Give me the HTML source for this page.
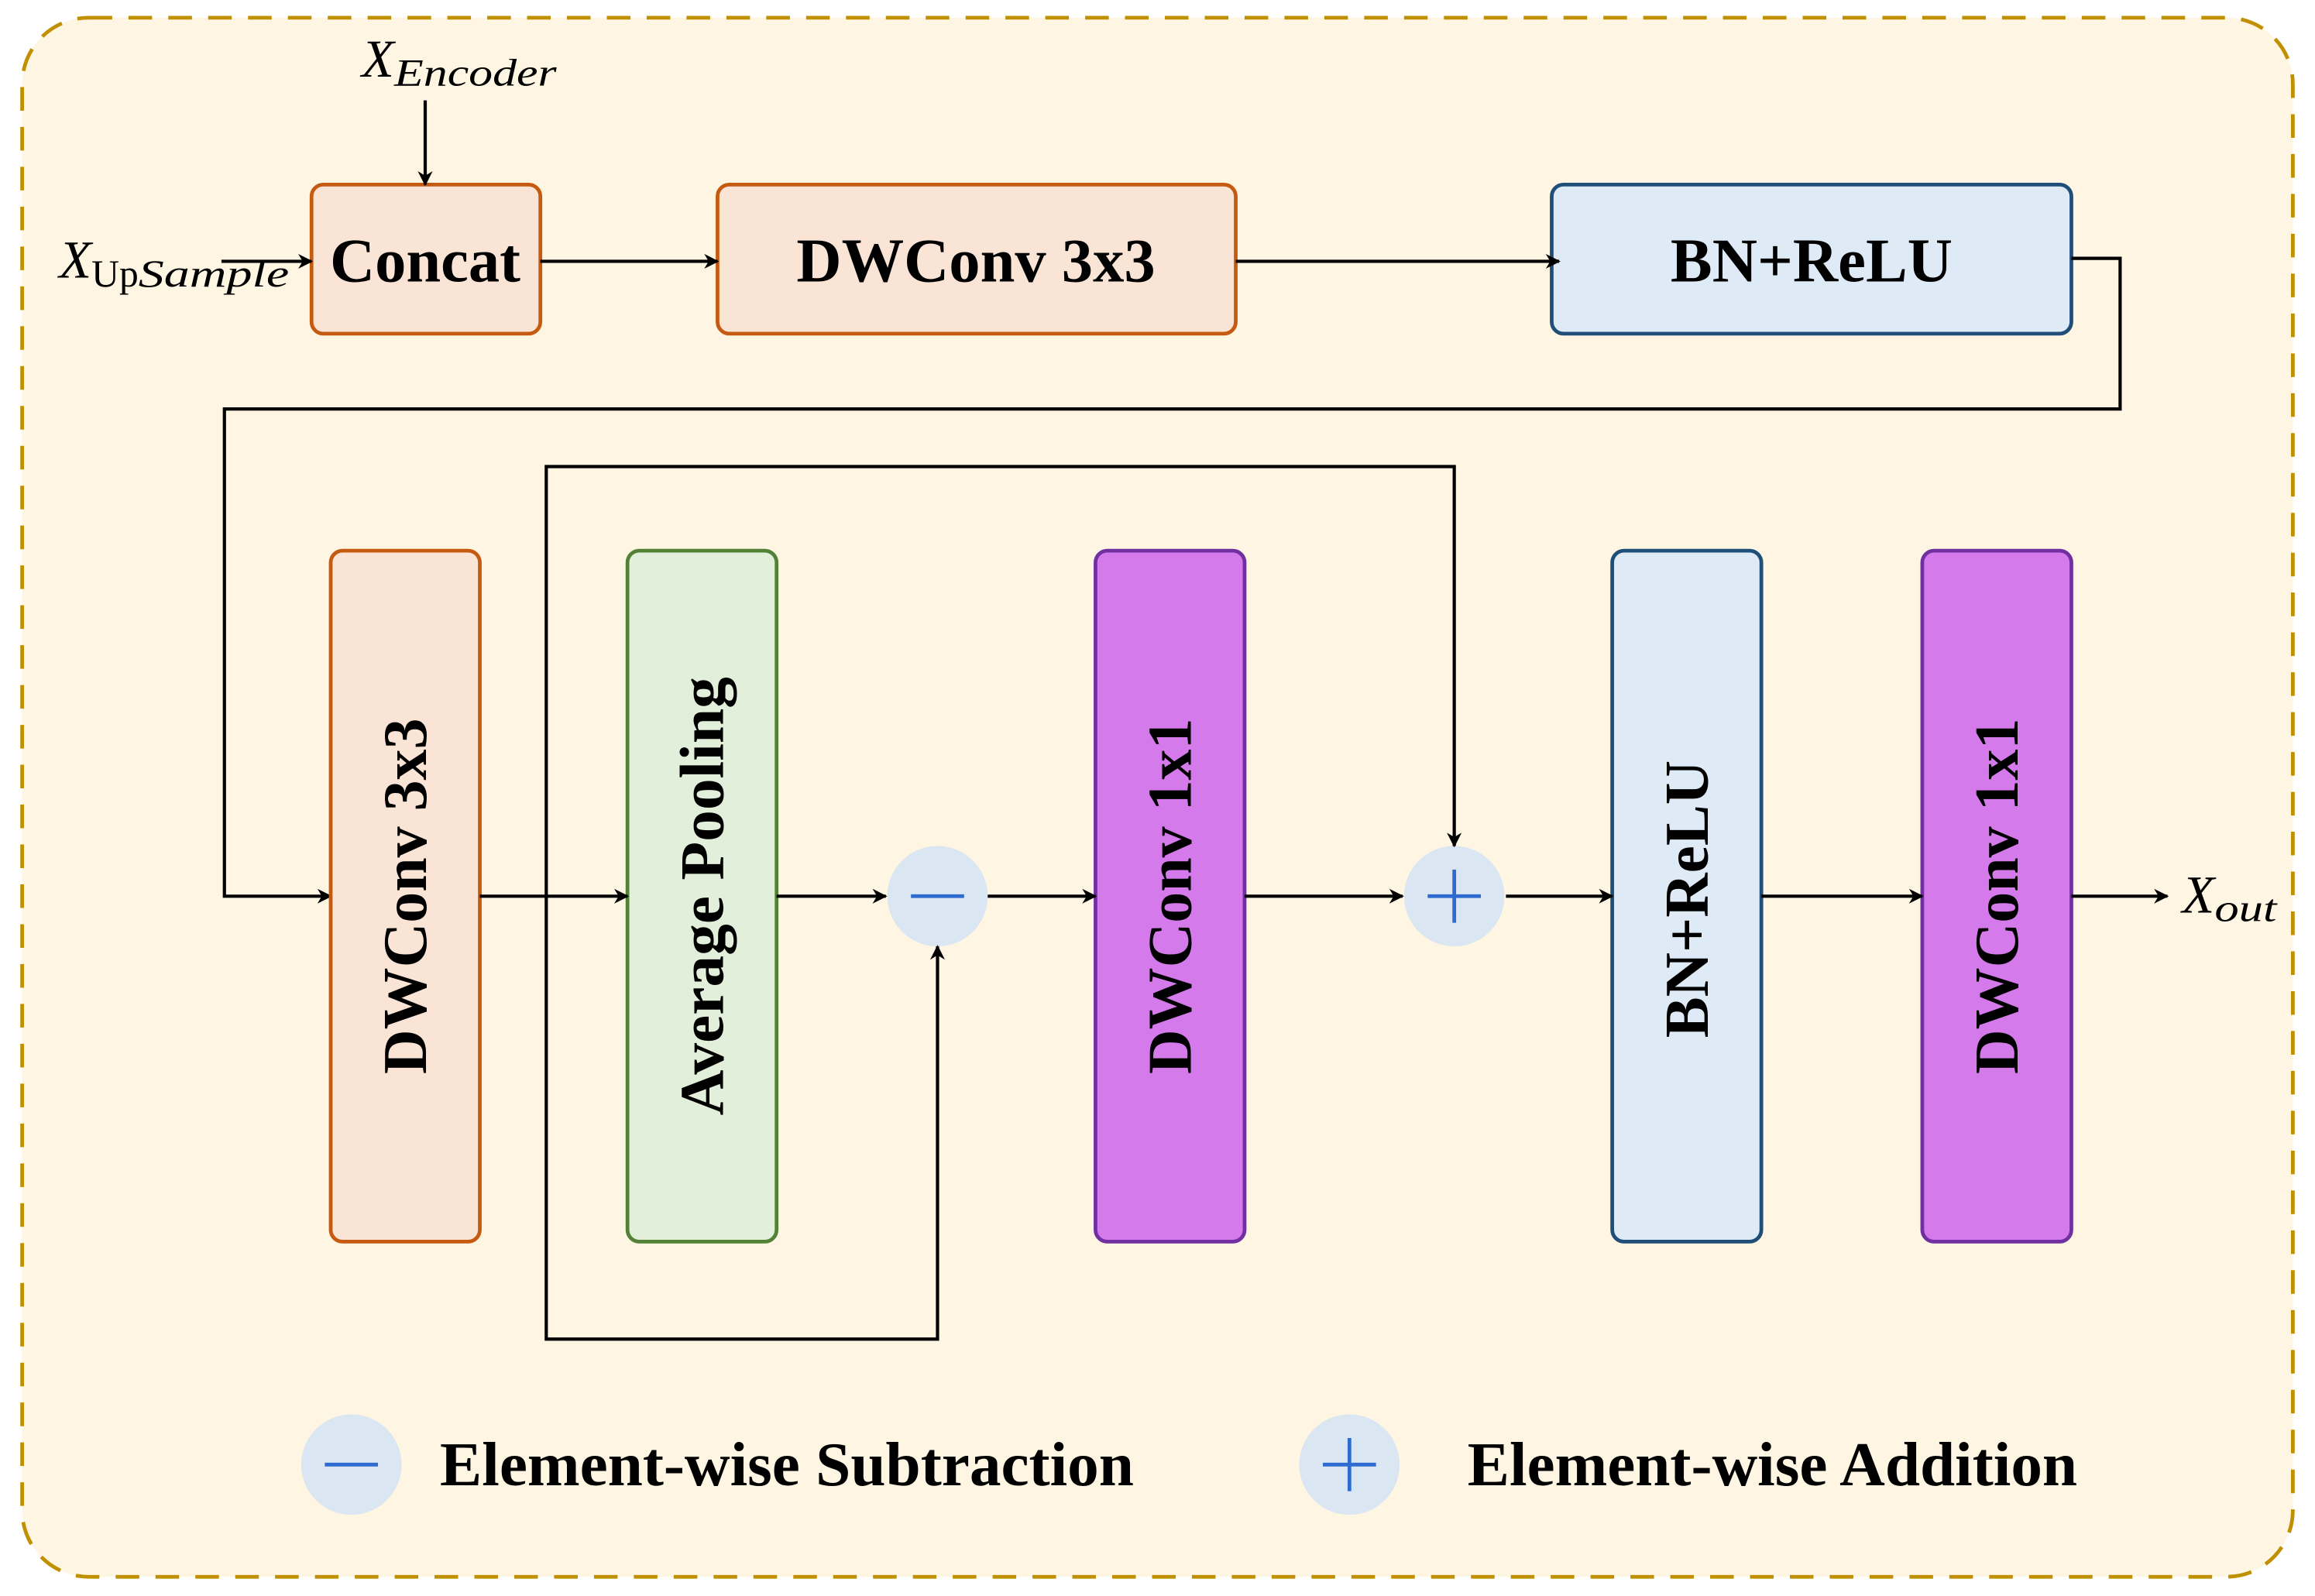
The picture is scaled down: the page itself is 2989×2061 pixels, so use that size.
<!DOCTYPE html>
<html><head><meta charset="utf-8"><style>
html,body{margin:0;padding:0;background:#fff}
svg{display:block}
text{font-family:"Liberation Serif",serif;}
.b{font-weight:bold;font-size:42px;text-anchor:middle;dominant-baseline:central;fill:#000}
.l{stroke:#000;stroke-width:2.2;fill:none}
</style></head><body>
<svg width="2989" height="2061" viewBox="0 0 1568 1081" preserveAspectRatio="none" xmlns="http://www.w3.org/2000/svg">
<defs><marker id="a" markerWidth="10" markerHeight="10" refX="9" refY="5" orient="auto" markerUnits="userSpaceOnUse" viewBox="0 0 10 10"><path d="M0,0 L10,5 L0,10 L3,5 z" fill="#000"/></marker></defs>
<rect width="1568" height="1081" fill="#fff"/>
<rect x="15" y="12" width="1538" height="1056" rx="45" fill="#FEF5E2" stroke="#C09000" stroke-width="2.5" stroke-dasharray="16,11"/>
<rect x="211" y="125" width="155" height="101" rx="8" fill="#FAE4D6" stroke="#C55A11" stroke-width="2.5"/>
<text class="b" x="288" y="177" textLength="129" lengthAdjust="spacingAndGlyphs">Concat</text>
<rect x="486" y="125" width="351" height="101" rx="8" fill="#FAE4D6" stroke="#C55A11" stroke-width="2.5"/>
<text class="b" x="661" y="177" textLength="243" lengthAdjust="spacingAndGlyphs">DWConv 3x3</text>
<rect x="1051" y="125" width="352" height="101" rx="8" fill="#DEEAF6" stroke="#1F4E79" stroke-width="2.5"/>
<text class="b" x="1227" y="177" textLength="191" lengthAdjust="spacingAndGlyphs">BN+ReLU</text>
<text x="245" y="52" font-size="36" font-style="italic">X<tspan font-size="26" dy="6" textLength="110" lengthAdjust="spacingAndGlyphs">Encoder</tspan></text>
<text x="40" y="188" font-size="36" font-style="italic">X<tspan font-size="26" dy="6" font-style="normal">Up</tspan><tspan font-size="26" font-style="italic" textLength="102" lengthAdjust="spacingAndGlyphs">Sample</tspan></text>
<path class="l" d="M288,68 V125" marker-end="url(#a)"/>
<path class="l" d="M150,177 H211" marker-end="url(#a)"/>
<path class="l" d="M366,177 H486" marker-end="url(#a)"/>
<path class="l" d="M837,177 H1056" marker-end="url(#a)"/>
<path class="l" d="M1403,175 H1436 V277 H152 V607 H224" marker-end="url(#a)"/>
<rect x="224" y="373" width="101" height="468" rx="8" fill="#FAE4D6" stroke="#C55A11" stroke-width="2.5"/>
<text class="b" transform="translate(275,607) rotate(-90)" textLength="241" lengthAdjust="spacingAndGlyphs">DWConv 3x3</text>
<rect x="425" y="373" width="101" height="468" rx="8" fill="#E2EFDA" stroke="#538135" stroke-width="2.5"/>
<text class="b" transform="translate(476,607) rotate(-90)" textLength="297" lengthAdjust="spacingAndGlyphs">Average Pooling</text>
<rect x="742" y="373" width="101" height="468" rx="8" fill="#D57AEB" stroke="#7030A0" stroke-width="2.5"/>
<text class="b" transform="translate(793,607) rotate(-90)" textLength="241" lengthAdjust="spacingAndGlyphs">DWConv 1x1</text>
<rect x="1092" y="373" width="101" height="468" rx="8" fill="#DEEAF6" stroke="#1F4E79" stroke-width="2.5"/>
<text class="b" transform="translate(1143,609) rotate(-90)" textLength="188" lengthAdjust="spacingAndGlyphs">BN+ReLU</text>
<rect x="1302" y="373" width="101" height="468" rx="8" fill="#D57AEB" stroke="#7030A0" stroke-width="2.5"/>
<text class="b" transform="translate(1353,607) rotate(-90)" textLength="241" lengthAdjust="spacingAndGlyphs">DWConv 1x1</text>
<circle cx="635" cy="607" r="34" fill="#DAE6F2"/>
<path d="M617,607 H653" stroke="#2E6BD0" stroke-width="2.5"/>
<circle cx="985" cy="607" r="34" fill="#DAE6F2"/>
<path d="M967,607 H1003 M985,589 V625" stroke="#2E6BD0" stroke-width="2.5"/>
<path class="l" d="M325,607 H425" marker-end="url(#a)"/>
<path class="l" d="M526,607 H600" marker-end="url(#a)"/>
<path class="l" d="M669,607 H742" marker-end="url(#a)"/>
<path class="l" d="M843,607 H950" marker-end="url(#a)"/>
<path class="l" d="M1020,607 H1092" marker-end="url(#a)"/>
<path class="l" d="M1193,607 H1302" marker-end="url(#a)"/>
<path class="l" d="M1403,607 H1468" marker-end="url(#a)"/>
<path class="l" d="M370,607 V316 H985 V573" marker-end="url(#a)"/>
<path class="l" d="M370,607 V907 H635 V641" marker-end="url(#a)"/>
<text x="1478" y="618" font-size="36" font-style="italic">X<tspan font-size="26" dy="6" textLength="42" lengthAdjust="spacingAndGlyphs">out</tspan></text>
<circle cx="238" cy="992" r="34" fill="#DAE6F2"/>
<path d="M220,992 H256" stroke="#2E6BD0" stroke-width="2.5"/>
<circle cx="914" cy="992" r="34" fill="#DAE6F2"/>
<path d="M896,992 H932 M914,974 V1010" stroke="#2E6BD0" stroke-width="2.5"/>
<text x="298" y="1006" font-size="42" font-weight="bold" textLength="470" lengthAdjust="spacingAndGlyphs">Element-wise Subtraction</text>
<text x="994" y="1006" font-size="42" font-weight="bold" textLength="413" lengthAdjust="spacingAndGlyphs">Element-wise Addition</text>
</svg>
</body></html>
